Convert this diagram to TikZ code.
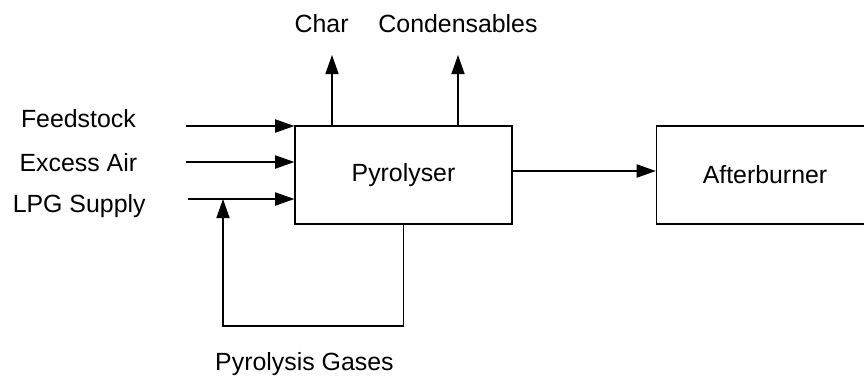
\documentclass[tikz,border=0pt]{standalone}
\usepackage{fontspec}
\setmainfont{Liberation Sans}
\usepackage{tikz}
\usetikzlibrary{positioning,arrows.meta,calc}

\begin{document}
\begin{tikzpicture}[>={Triangle[length=0.48cm,width=0.33cm]}, line width=0.9pt,
  font=\fontsize{17.7pt}{21pt}\selectfont,
  unit/.style={draw,minimum width=5.425cm,minimum height=2.45cm,inner sep=0pt},
  lbl/.style={anchor=base,inner sep=0pt}]
  \useasboundingbox (0,0) rectangle (21.6,-9.4);
  \node[unit](pyro) at (10.0875,-4.375){Pyrolyser};
  \node[unit](after) at (19.125,-4.375){Afterburner};
  % inputs
  \node[lbl](feed) at (1.96,-3.175){Feedstock};
  \node[lbl](air) at (1.96,-4.275){Excess Air};
  \node[lbl](lpg) at (1.98,-5.3){LPG Supply};
  \coordinate (feedin) at (4.65,-3.15);
  \coordinate (airin) at (4.65,-4.05);
  \coordinate (lpgin) at (4.7,-4.975);
  \foreach \s in {feedin,airin,lpgin}\draw[->](\s)--(\s -| pyro.west);
  % products
  \node[lbl](char) at (8.04,-0.8){Char};
  \node[lbl](cond) at (11.45,-0.8){Condensables};
  \coordinate (charout) at (8.3,-1.375);
  \coordinate (condout) at (11.45,-1.375);
  \foreach \s in {charout,condout}\draw[->](pyro.north -| \s)--(\s);
  \draw[->](pyro.east)++(0,0.1) coordinate (gas)--(gas -| after.west);
  % recycle loop
  \node[lbl](recyc) at (7.61,-9.25){Pyrolysis Gases};
  \coordinate (loop) at (5.575,-8.15);
  \draw[->](pyro.south)|-(loop)--(loop |- lpgin);
\end{tikzpicture}
\end{document}
